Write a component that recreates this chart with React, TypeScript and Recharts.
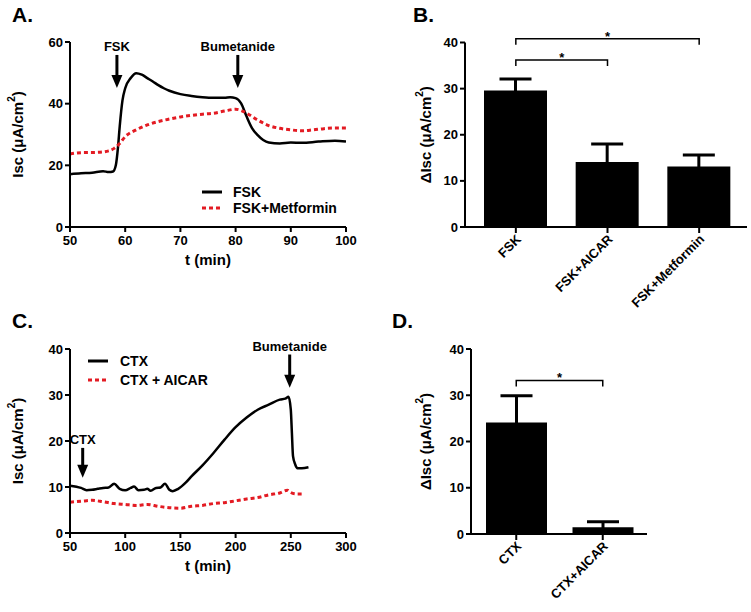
import React from 'react'
import { LineChart, Line, XAxis, YAxis, ComposedChart, Bar, ErrorBar, ReferenceLine, Legend } from 'recharts'

const FONT = '"Liberation Sans", Arial, Helvetica, sans-serif'
const RED = '#e31b23'

// ---- Panel A: FSK vs FSK+Metformin traces ----
const aFskTime = [50, 52, 54, 56, 57, 57.8, 58.3, 58.7, 59, 59.5, 60, 61, 62, 63, 64, 65, 66, 67, 68, 70, 72, 74, 76, 78, 79, 80, 81, 82, 83, 84, 85, 86, 88, 90, 92, 95, 98, 100]
const aFskIsc = [17.1, 17.4, 17.6, 18.1, 17.8, 18.0, 20, 26, 32.5, 41, 45, 48.3, 49.9, 49.4, 48.3, 47.2, 46, 45, 44.2, 43.1, 42.5, 42.1, 41.9, 41.9, 42.1, 41.8, 40.1, 35.8, 32, 29.8, 28.2, 27.4, 27.1, 27.4, 27.3, 27.7, 28, 27.7]
const aMetTime = [50, 52, 55, 57, 58, 59, 60, 62, 64, 66, 68, 70, 72, 74, 76, 78, 80, 81, 82, 84, 86, 88, 90, 92, 94, 96, 98, 100]
const aMetIsc = [23.7, 24.1, 24.2, 24.7, 25.5, 27.1, 29.3, 31.5, 33.1, 34.2, 35, 35.7, 36.2, 36.6, 36.9, 37.6, 38.2, 37.8, 36.9, 34.7, 32.9, 32, 31.5, 31.2, 31.5, 31.9, 32.1, 32.1]
const aTicksX = [50, 60, 70, 80, 90, 100]
const aTicksY = [0, 20, 40, 60]
const aArrows = [
  { label: 'FSK', t: 58.5, from: 55.8, to: 45.1 },
  { label: 'Bumetanide', t: 80.4, from: 55.8, to: 45.1 },
]

// ---- Panel B: ΔIsc bars ----
const bGroups = ['FSK', 'FSK+AICAR', 'FSK+Metformin']
const bMeans = [29.6, 14.1, 13.1]
const bErrors = [2.5, 3.9, 2.5]
const bTicksY = [0, 10, 20, 30, 40]
const bSig = [
  { from: 'FSK', to: 'FSK+Metformin', level: 40.8 },
  { from: 'FSK', to: 'FSK+AICAR', level: 36.2 },
]

// ---- Panel C: CTX vs CTX + AICAR traces ----
const cCtxTime = [50, 60, 65, 70, 75, 80, 85, 90, 95, 100, 105, 108, 112, 117, 120, 123, 128, 132, 136, 140, 143, 148, 155, 160, 170, 180, 190, 200, 210, 220, 230, 240, 245, 248, 250, 251, 252, 254, 256, 260, 266]
const cCtxIsc = [10.3, 9.8, 9.3, 9.4, 9.6, 9.8, 9.9, 10.7, 9.6, 9.3, 9.8, 10.1, 9.3, 9.4, 9.6, 9.2, 9.8, 9.9, 10.7, 9.4, 9.1, 9.6, 11, 12.3, 14.7, 17.4, 20.3, 23, 25.1, 26.8, 27.9, 29, 29.2, 29.6, 26.8, 21.7, 16.7, 14.9, 14.1, 14.1, 14.3]
const cAicTime = [50, 60, 70, 80, 90, 100, 110, 120, 130, 140, 150, 160, 170, 180, 190, 200, 210, 220, 230, 240, 247, 250, 255, 262]
const cAicIsc = [6.7, 6.9, 7.1, 6.8, 6.4, 6.2, 6.0, 6.2, 5.8, 5.5, 5.4, 5.8, 6.0, 6.4, 6.6, 7.0, 7.4, 7.7, 8.3, 8.7, 9.3, 8.8, 8.5, 8.5]
const cTicksX = [50, 100, 150, 200, 250, 300]
const cTicksY = [0, 10, 20, 30, 40]
const cArrows = [
  { label: 'CTX', t: 61.5, from: 18.5, to: 12.0 },
  { label: 'Bumetanide', t: 249, from: 38.8, to: 31.6 },
]

// ---- Panel D: ΔIsc bars ----
const dGroups = ['CTX', 'CTX+AICAR']
const dMeans = [24.1, 1.45]
const dErrors = [5.8, 1.2]
const dTicksY = [0, 10, 20, 30, 40]
const dSig = [{ from: 'CTX', to: 'CTX+AICAR', level: 33.2 }]

const zip = (ts: number[], vs: number[]) => ts.map((t, i) => ({ t, v: vs[i] }))
const aFskData = zip(aFskTime, aFskIsc)
const aMetData = zip(aMetTime, aMetIsc)
const cCtxData = zip(cCtxTime, cCtxIsc)
const cAicData = zip(cAicTime, cAicIsc)
const bData = bGroups.map((g, i) => ({ g, v: bMeans[i], err: bErrors[i] }))
const dData = dGroups.map((g, i) => ({ g, v: dMeans[i], err: dErrors[i] }))

const tickStyle = { fill: '#000', fontSize: 13, fontWeight: 'bold', fontFamily: FONT }
const axisLine = { stroke: '#000', strokeWidth: 2 }

function YTitle({ viewBox, cx, delta }: any) {
  const cy = viewBox.y + viewBox.height / 2
  return (
    <text x={cx} y={cy} transform={`rotate(-90 ${cx} ${cy})`} textAnchor="middle" dominantBaseline="central"
      fontFamily={FONT} fontWeight="bold" fontSize={15} fill="#000">
      {delta ? '\u0394' : ''}Isc (μA/cm<tspan dy={-6} fontSize={10}>2</tspan><tspan dy={6}>)</tspan>
    </text>
  )
}

function Arrow(p: any) {
  const x = p.x1
  const top = Math.min(p.y1, p.y2)
  const tip = Math.max(p.y1, p.y2)
  return (
    <g>
      <line x1={x} y1={top} x2={x} y2={tip - 10} stroke="#000" strokeWidth={3} />
      <path d={`M${x - 5.5},${tip - 13}L${x + 5.5},${tip - 13}L${x},${tip}Z`} fill="#000" />
      <text x={x} y={top - 4} textAnchor="middle" fontFamily={FONT} fontWeight="bold" fontSize={13} fill="#000">{p.text}</text>
    </g>
  )
}

function Bracket(p: any) {
  return (
    <g>
      <path d={`M${p.x1},${p.y1 + 6}V${p.y1}H${p.x2}V${p.y2 + 6}`} fill="none" stroke="#000" strokeWidth={1.5} />
      <text x={(p.x1 + p.x2) / 2} y={p.y1 + 2} textAnchor="middle" fontFamily={FONT} fontWeight="bold" fontSize={13} fill="#000">*</text>
    </g>
  )
}

function SlantTick({ x, y, payload }: any) {
  const px = x + 6
  const py = y + 5
  return (
    <text x={px} y={py} transform={`rotate(-45 ${px} ${py})`} textAnchor="end" fontFamily={FONT} fontWeight="bold" fontSize={13} fill="#000">
      {payload.value}
    </text>
  )
}

function TraceLegend({ payload, gap, rowH }: any) {
  return (
    <div style={{ fontFamily: FONT, fontWeight: 'bold', fontSize: 14, color: '#000' }}>
      {(payload || []).map((e: any) => (
        <div key={e.value} style={{ display: 'flex', alignItems: 'center', height: rowH }}>
          <svg width={20} height={6} style={{ display: 'block' }}>
            <line x1={0} y1={3} x2={20} y2={3} stroke={e.color} strokeWidth={3} strokeDasharray={e.payload?.strokeDasharray} />
          </svg>
          <span style={{ marginLeft: gap, lineHeight: 1 }}>{e.value}</span>
        </div>
      ))}
    </div>
  )
}

const letter = (text: string, left: number, top: number) => (
  <div style={{ position: 'absolute', left, top, fontFamily: FONT, fontWeight: 'bold', fontSize: 21, lineHeight: '21px' }}>{text}</div>
)

export default function App() {
  return (
    <div style={{ position: 'absolute', left: 0, top: 0, width: 751, height: 612, background: '#fff' }}>
      {letter('A.', 12, 4)}
      {letter('B.', 413, 4)}
      {letter('C.', 12, 310)}
      {letter('D.', 392, 310)}

      {/* A */}
      <div style={{ position: 'absolute', left: 0, top: 0 }}>
        <LineChart width={380} height={300} margin={{ top: 42, right: 34, bottom: 35, left: 10 }}>
          <XAxis type="number" dataKey="t" domain={[50, 100]} ticks={aTicksX} allowDataOverflow height={38}
            tick={tickStyle} tickSize={5} tickMargin={4} axisLine={axisLine} tickLine={axisLine}
            label={{ value: 't (min)', position: 'insideBottom', offset: 0, fill: '#000', fontSize: 15, fontWeight: 'bold', fontFamily: FONT }} />
          <YAxis type="number" domain={[0, 60]} ticks={aTicksY} width={60}
            tick={tickStyle} tickSize={5} tickMargin={2} axisLine={axisLine} tickLine={axisLine}
            label={<YTitle cx={17} />} />
          <Legend layout="vertical" align="center" verticalAlign="middle"
            wrapperStyle={{ left: 202, top: 184, width: 160 }}
            content={(props: any) => <TraceLegend {...props} gap={11} rowH={16} />} />
          <Line data={aFskData} dataKey="v" name="FSK" type="monotone" stroke="#000" strokeWidth={2.5} dot={false} isAnimationActive={false} />
          <Line data={aMetData} dataKey="v" name="FSK+Metformin" type="monotone" stroke={RED} strokeWidth={3} strokeDasharray="4 3" dot={false} isAnimationActive={false} />
          {aArrows.map(a => (
            <ReferenceLine key={a.label} ifOverflow="visible" segment={[{ x: a.t, y: a.from }, { x: a.t, y: a.to }]}
              shape={(p: any) => <Arrow {...p} text={a.label} />} />
          ))}
        </LineChart>
      </div>

      {/* B */}
      <div style={{ position: 'absolute', left: 380, top: 0 }}>
        <ComposedChart width={371} height={330} data={bData} margin={{ top: 42.5, right: 4, bottom: 0, left: 10 }}>
          <XAxis dataKey="g" height={103} padding={{ left: 5, right: 2 }} interval={0}
            tick={<SlantTick />} tickSize={6} tickMargin={2} axisLine={axisLine} tickLine={axisLine} />
          <YAxis domain={[0, 40]} ticks={bTicksY} width={75}
            tick={tickStyle} tickSize={5} tickMargin={2} axisLine={axisLine} tickLine={axisLine}
            label={<YTitle cx={45} delta />} />
          <Bar dataKey="v" fill="#000" barSize={63} isAnimationActive={false}>
            <ErrorBar dataKey="err" width={16} stroke="#000" strokeWidth={3} isAnimationActive={false} />
          </Bar>
          {bSig.map(s => (
            <ReferenceLine key={s.to} ifOverflow="visible" segment={[{ x: s.from, y: s.level }, { x: s.to, y: s.level }]}
              shape={(p: any) => <Bracket {...p} />} />
          ))}
        </ComposedChart>
      </div>

      {/* C */}
      <div style={{ position: 'absolute', left: 0, top: 300 }}>
        <LineChart width={380} height={312} margin={{ top: 49, right: 34, bottom: 41, left: 10 }}>
          <XAxis type="number" dataKey="t" domain={[50, 300]} ticks={cTicksX} allowDataOverflow height={38}
            tick={tickStyle} tickSize={5} tickMargin={4} axisLine={axisLine} tickLine={axisLine}
            label={{ value: 't (min)', position: 'insideBottom', offset: 0, fill: '#000', fontSize: 15, fontWeight: 'bold', fontFamily: FONT }} />
          <YAxis type="number" domain={[0, 40]} ticks={cTicksY} width={60}
            tick={tickStyle} tickSize={5} tickMargin={2} axisLine={axisLine} tickLine={axisLine}
            label={<YTitle cx={17} />} />
          <Legend layout="vertical" align="center" verticalAlign="middle"
            wrapperStyle={{ left: 88, top: 51, width: 160 }}
            content={(props: any) => <TraceLegend {...props} gap={12} rowH={19} />} />
          <Line data={cCtxData} dataKey="v" name="CTX" type="monotone" stroke="#000" strokeWidth={2.5} dot={false} isAnimationActive={false} />
          <Line data={cAicData} dataKey="v" name="CTX + AICAR" type="monotone" stroke={RED} strokeWidth={3} strokeDasharray="4 3" dot={false} isAnimationActive={false} />
          {cArrows.map(a => (
            <ReferenceLine key={a.label} ifOverflow="visible" segment={[{ x: a.t, y: a.from }, { x: a.t, y: a.to }]}
              shape={(p: any) => <Arrow {...p} text={a.label} />} />
          ))}
        </LineChart>
      </div>

      {/* D */}
      <div style={{ position: 'absolute', left: 380, top: 300 }}>
        <ComposedChart width={371} height={312} data={dData} margin={{ top: 49, right: 104, bottom: 0, left: 10 }}>
          <XAxis dataKey="g" height={78} padding={{ left: 2, right: 1 }} interval={0}
            tick={<SlantTick />} tickSize={6} tickMargin={2} axisLine={axisLine} tickLine={axisLine} />
          <YAxis domain={[0, 40]} ticks={dTicksY} width={81}
            tick={tickStyle} tickSize={5} tickMargin={2} axisLine={axisLine} tickLine={axisLine}
            label={<YTitle cx={45} delta />} />
          <Bar dataKey="v" fill="#000" barSize={61} isAnimationActive={false}>
            <ErrorBar dataKey="err" width={16} stroke="#000" strokeWidth={3} isAnimationActive={false} />
          </Bar>
          {dSig.map(s => (
            <ReferenceLine key={s.to} ifOverflow="visible" segment={[{ x: s.from, y: s.level }, { x: s.to, y: s.level }]}
              shape={(p: any) => <Bracket {...p} />} />
          ))}
        </ComposedChart>
      </div>
    </div>
  )
}
